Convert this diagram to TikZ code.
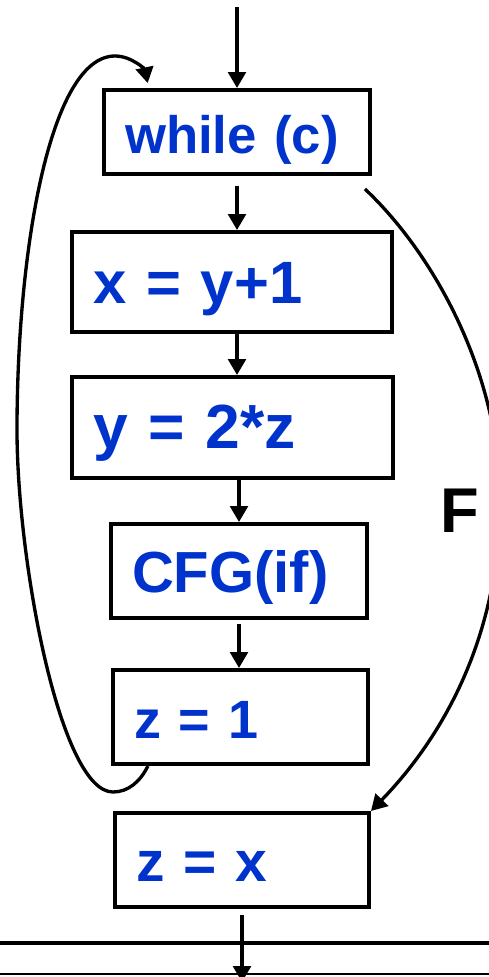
\documentclass[tikz,border=0pt]{standalone}
\usepackage{fontspec}
\setmainfont{Liberation Sans}
\usetikzlibrary{arrows.meta,calc}
\definecolor{codeblue}{RGB}{0,51,204}
\begin{document}
\begin{tikzpicture}[x=0.02cm, y=-0.02cm,
  blk/.style={draw, line width=2.3pt, text=codeblue, font=\bfseries\fontsize{#1}{#1}\selectfont,
    align=left, inner xsep=0.42cm, inner ysep=0pt, text height=24pt, text depth=0pt},
  flow/.style={line width=1.9pt, -{Triangle[length=9pt,width=10pt]}}]
  \useasboundingbox (0,0) rectangle (489,977);
  \clip (0,0) rectangle (489,977);
  % Blocos do laco
  \node[blk=30pt, text width=4.48cm, minimum height=1.68cm] (while) at (237,132) {while (c)};
  \node[blk=34pt, text width=5.56cm, minimum height=2cm] (xy) at (232,282) {x = y+1};
  \node[blk=35.5pt, text width=5.58cm, minimum height=2.02cm] (yz) at (232.5,427.5) {y = 2*z};
  \node[blk=33pt, text width=4.28cm, minimum height=1.88cm] (cfg) at (239,571) {CFG(if)};
  \node[blk=30.7pt, text width=4.26cm, minimum height=1.88cm] (zone) at (240.5,717) {z = 1};
  \node[blk=32.4pt, text width=4.24cm, minimum height=1.88cm] (zx) at (242,860) {z = x};
  \node[font=\bfseries\fontsize{36pt}{36pt}\selectfont] (flabel) at (460,511) {F};
  % Linhas de separacao
  \draw[line width=2.3pt] (0,943) -- (489,943);
  \draw[line width=1.1pt] (0,974) -- (489,974);
  % Fluxo principal
  \coordinate (in) at (237,7);
  \coordinate (out) at (242,982);
  \draw[flow] (in) -- (while.north);
  \draw[flow, shorten <=5.5pt] (while.south) -- (while.south |- xy.north);
  \draw[flow] (xy.south -| while) -- (yz.north -| while);
  \draw[flow] (yz.south -| cfg) -- (cfg.north);
  \draw[flow, shorten <=2.5pt] (cfg.south) -- (cfg.south |- zone.north);
  \draw[flow, shorten <=3.4pt] (zx.south) -- (out);
  % Volta do laco
  \draw[flow] ([xshift=21pt]zone.south west) .. controls (140,782) and (128,792) .. (113,792)
    .. controls (60,792) and (17,560) .. (17,430)
    .. controls (17,250) and (50,56) .. (115,56)
    .. controls (132,56) and (145,70) .. ([xshift=26pt,yshift=2.8pt]while.north west);
  % Saida (F)
  \draw[flow] ([xshift=-4pt,yshift=-7.4pt]while.south east) .. controls (435,255) and (500,375) .. (500,500)
    .. controls (500,640) and (440,740) .. (zx.north east);
\end{tikzpicture}
\end{document}
